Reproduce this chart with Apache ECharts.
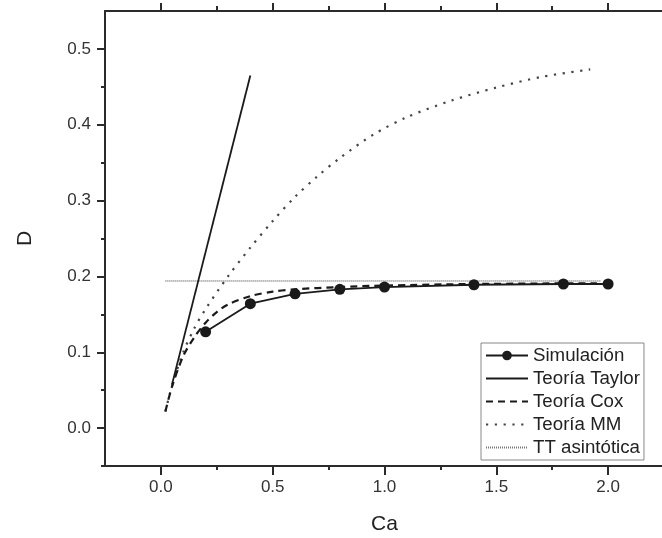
<!DOCTYPE html>
<html>
<head>
<meta charset="utf-8">
<script src="https://cdn.jsdelivr.net/npm/echarts@6/dist/echarts.min.js"></script>
<style>html,body{margin:0;padding:0;background:#fff;}#c{width:662px;height:538px;}</style>
</head>
<body>
<div id="c"></div>
<script>
// ---- data ----
const simX = [0.2, 0.4, 0.6, 0.8, 1.0, 1.4, 1.8, 2.0];
const simY = [0.127, 0.164, 0.177, 0.183, 0.186, 0.189, 0.190, 0.190];
const taylorX = [0.05, 0.4];
const taylorY = [0.058, 0.465];
const coxX = [0.02, 0.05, 0.1, 0.15, 0.2, 0.25, 0.3, 0.4, 0.5, 0.6, 0.8, 1.0, 1.4, 1.95];
const coxY = [0.022, 0.055, 0.095, 0.12, 0.139, 0.153, 0.163, 0.174, 0.18, 0.183, 0.186, 0.188, 0.190, 0.191];
const mmX = [0.02, 0.05, 0.1, 0.15, 0.2, 0.3, 0.4, 0.5, 0.6, 0.7, 0.8, 0.95, 1.1, 1.3, 1.5, 1.7, 1.92];
const mmY = [0.022, 0.056, 0.1, 0.132, 0.157, 0.2, 0.238, 0.273, 0.305, 0.332, 0.356, 0.387, 0.41, 0.432, 0.449, 0.463, 0.473];
const ttX = [0.02, 1.97];
const ttY = [0.194, 0.194];
const seriesNames = ['Simulación', 'Teoría Taylor', 'Teoría Cox', 'Teoría MM', 'TT asintótica'];
const xMajor = [0, 0.5, 1.0, 1.5, 2.0];
const xMinor = [0.25, 0.75, 1.25, 1.75];
const yMajor = [0, 0.1, 0.2, 0.3, 0.4, 0.5];
const yMinor = [-0.05, 0.05, 0.15, 0.25, 0.35, 0.45];
const xName = 'Ca';
const yName = 'D';

const pairs = (xs, ys) => xs.map((x, i) => [x, ys[i]]);
const FONT = "'Liberation Sans', Arial, sans-serif";
const AX = '#2b2b2b';
const gridRect = { left: 105, top: 11, right: -2, bottom: 72, containLabel: false, outerBoundsMode: 'none' };

const chart = echarts.init(document.getElementById('c'), null, { renderer: 'canvas' });
chart.setOption({
  animation: false,
  backgroundColor: '#fff',
  textStyle: { fontFamily: FONT },
  grid: [Object.assign({}, gridRect), Object.assign({}, gridRect)],
  xAxis: [
    { gridIndex: 0, type: 'value', position: 'bottom', min: -0.25, max: 2.25,
      axisLine: { onZero: false, lineStyle: { color: AX, width: 2 } },
      axisTick: { customValues: xMajor, length: 9, lineStyle: { color: AX, width: 2 } },
      axisLabel: { customValues: xMajor, formatter: v => v.toFixed(1), fontSize: 17, color: '#333', margin: 13, fontFamily: FONT },
      splitLine: { show: false },
      name: xName, nameLocation: 'middle', nameGap: 48,
      nameTextStyle: { fontSize: 21, color: '#222', fontFamily: FONT } },
    { gridIndex: 0, type: 'value', position: 'top', min: -0.25, max: 2.25,
      axisLine: { onZero: false, lineStyle: { color: AX, width: 2 } },
      axisTick: { customValues: xMajor, length: 8, lineStyle: { color: AX, width: 2 } },
      axisLabel: { show: false }, splitLine: { show: false } },
    { gridIndex: 1, type: 'value', position: 'bottom', min: -0.25, max: 2.25,
      axisLine: { show: false, onZero: false },
      axisTick: { customValues: xMinor, length: 4, lineStyle: { color: AX, width: 2 } },
      axisLabel: { show: false }, splitLine: { show: false } },
    { gridIndex: 1, type: 'value', position: 'top', min: -0.25, max: 2.25,
      axisLine: { show: false, onZero: false },
      axisTick: { customValues: xMinor, length: 5, lineStyle: { color: AX, width: 2 } },
      axisLabel: { show: false }, splitLine: { show: false } }
  ],
  yAxis: [
    { gridIndex: 0, type: 'value', position: 'left', min: -0.05, max: 0.55,
      axisLine: { onZero: false, lineStyle: { color: AX, width: 2 } },
      axisTick: { customValues: yMajor, length: 8, lineStyle: { color: AX, width: 2 } },
      axisLabel: { customValues: yMajor, formatter: v => v.toFixed(1), fontSize: 17, color: '#333', margin: 14, fontFamily: FONT },
      splitLine: { show: false },
      name: yName, nameLocation: 'middle', nameGap: 69,
      nameTextStyle: { fontSize: 21, color: '#222', fontFamily: FONT } },
    { gridIndex: 1, type: 'value', position: 'left', min: -0.05, max: 0.55,
      axisLine: { show: false, onZero: false },
      axisTick: { customValues: yMinor, length: 4, lineStyle: { color: AX, width: 2 } },
      axisLabel: { show: false }, splitLine: { show: false } }
  ],
  legend: {
    orient: 'vertical', left: 481, top: 343,
    padding: [3, 4, 3, 4], itemGap: 4, itemWidth: 42, itemHeight: 12,
    borderColor: '#888', borderWidth: 1, backgroundColor: '#fff',
    textStyle: { fontSize: 18.7, color: '#222', fontFamily: FONT },
    data: seriesNames.map((n, i) => i === 0 ? { name: n } :
      { name: n, itemStyle: { opacity: 0, borderWidth: 0 } })
  },
  series: [
    { name: seriesNames[4], type: 'line', xAxisIndex: 0, yAxisIndex: 0, data: pairs(ttX, ttY),
      symbol: 'none', lineStyle: { color: '#777', width: 1.5, type: [1, 1] }, itemStyle: { color: '#777' }, z: 2 },
    { name: seriesNames[3], type: 'line', xAxisIndex: 0, yAxisIndex: 0, data: pairs(mmX, mmY),
      symbol: 'none', smooth: 0.3, lineStyle: { color: '#444', width: 2.2, type: [2.2, 6.6] }, itemStyle: { color: '#444' }, z: 3 },
    { name: seriesNames[2], type: 'line', xAxisIndex: 0, yAxisIndex: 0, data: pairs(coxX, coxY),
      symbol: 'none', smooth: 0.3, lineStyle: { color: '#1a1a1a', width: 2.2, type: [7, 5] }, itemStyle: { color: '#1a1a1a' }, z: 4 },
    { name: seriesNames[1], type: 'line', xAxisIndex: 0, yAxisIndex: 0, data: pairs(taylorX, taylorY),
      symbol: 'none', lineStyle: { color: '#1a1a1a', width: 1.8 }, itemStyle: { color: '#1a1a1a' }, z: 5 },
    { name: seriesNames[0], type: 'line', xAxisIndex: 0, yAxisIndex: 0, data: pairs(simX, simY),
      symbol: 'circle', symbolSize: 11, lineStyle: { color: '#1a1a1a', width: 1.8 }, itemStyle: { color: '#1a1a1a' }, z: 6 }
  ]
});
</script>
</body>
</html>
